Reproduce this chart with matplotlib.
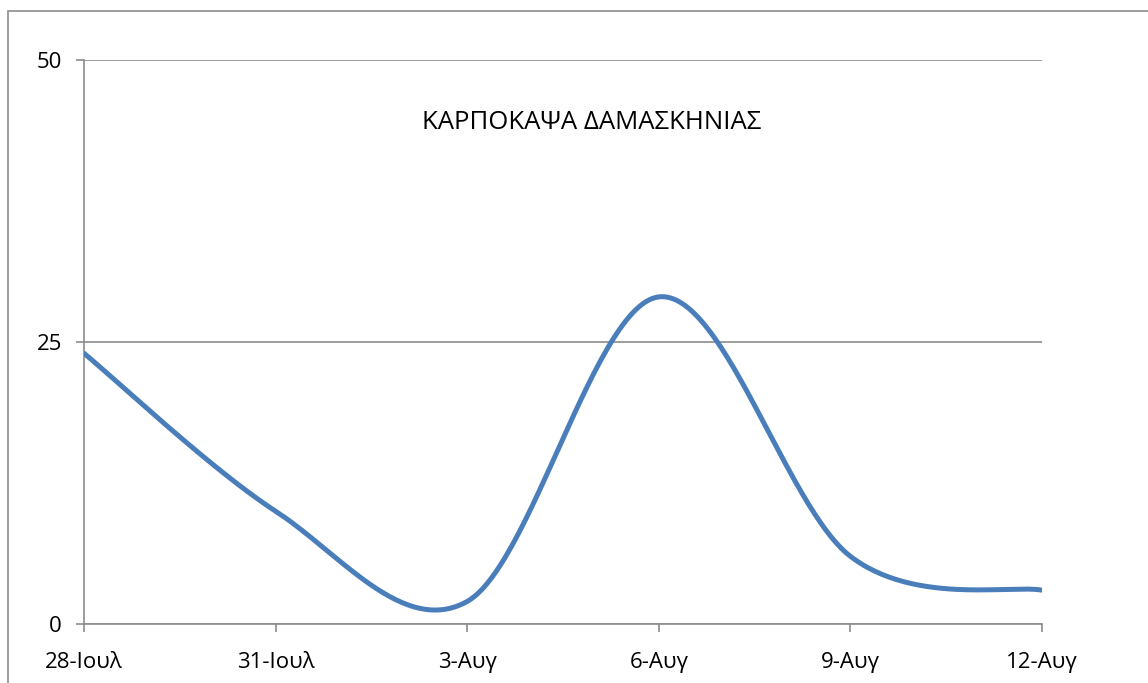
import numpy as np
import matplotlib.pyplot as plt
from matplotlib.patches import Rectangle

plt.rcParams['font.family'] = ['Open Sans', 'DejaVu Sans']

# data: one count every 3 days
days = [0, 3, 6, 9, 12, 15]
labels = ['28-Ιουλ', '31-Ιουλ', '3-Αυγ', '6-Αυγ', '9-Αυγ', '12-Αυγ']
counts = [24, 10, 2, 29, 6, 3]
title = 'ΚΑΡΠΟΚΑΨΑ ΔΑΜΑΣΚΗΝΙΑΣ'


def smooth(x, y, n=60):
    # Excel-like smoothed line (Catmull-Rom through the points)
    x = np.asarray(x, float)
    y = np.asarray(y, float)
    px = np.concatenate([[x[0]], x, [x[-1]]])
    py = np.concatenate([[y[0]], y, [y[-1]]])
    xs, ys = [], []
    t = np.linspace(0, 1, n)
    for i in range(1, len(px) - 2):
        p0x, p1x, p2x, p3x = px[i-1:i+3]
        p0y, p1y, p2y, p3y = py[i-1:i+3]
        c1x = p1x + (p2x - p0x) / 6
        c1y = p1y + (p2y - p0y) / 6
        c2x = p2x - (p3x - p1x) / 6
        c2y = p2y - (p3y - p1y) / 6
        b0 = (1-t)**3; b1 = 3*t*(1-t)**2; b2 = 3*t**2*(1-t); b3 = t**3
        xs.append(b0*p1x + b1*c1x + b2*c2x + b3*p2x)
        ys.append(b0*p1y + b1*c1y + b2*c2y + b3*p2y)
    return np.concatenate(xs), np.concatenate(ys)


fig = plt.figure(figsize=(11.48, 6.83), dpi=100)
fig.patches.append(Rectangle((8/1148, -0.05), 1.2, 1 - 11/683 + 0.05,
                             transform=fig.transFigure, fill=False,
                             edgecolor='#8c8c8c', lw=1.2))

ax = fig.add_axes([84/1148, 59/683, 958/1148, 564/683])
sx, sy = smooth(days, counts)
ax.plot(sx, sy, color='#4a7ebb', lw=3.6, solid_capstyle='round', zorder=3)

ax.set_xlim(0, 15)
ax.set_ylim(0, 50)
ax.set_yticks([0, 25, 50])
ax.set_xticks(days)
ax.set_xticklabels(labels)
ax.grid(axis='y', color='#8c8c8c', lw=1.2)
for s in ['top', 'right']:
    ax.spines[s].set_visible(False)
for s in ['left', 'bottom']:
    ax.spines[s].set_color('#8c8c8c')
    ax.spines[s].set_linewidth(1.2)
ax.tick_params(axis='both', colors='#8c8c8c', labelcolor='black',
               labelsize=16, width=1.2)
ax.tick_params(axis='y', length=6, pad=10)
ax.tick_params(axis='x', length=6, pad=14)

ax.text(0.5303, 0.889, title, transform=ax.transAxes, ha='center',
        va='center', fontsize=18.5)

fig.savefig('out.png', dpi=100)
